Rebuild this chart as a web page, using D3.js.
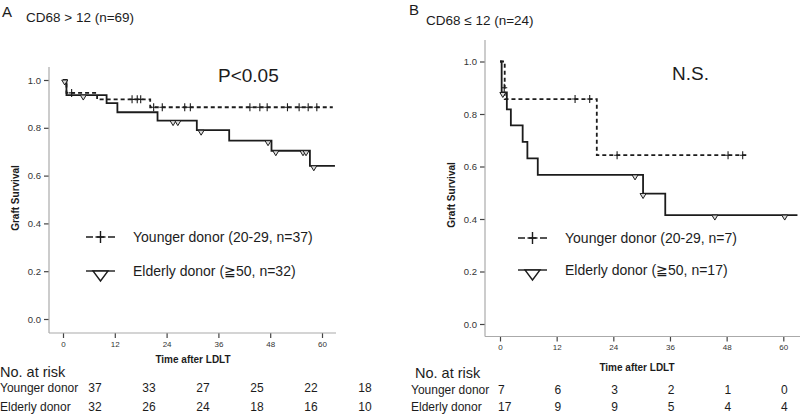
<!DOCTYPE html>
<html><head><meta charset="utf-8">
<script src="https://cdn.jsdelivr.net/npm/d3@7/dist/d3.min.js"></script>
<style>body{margin:0;background:#fff}svg{display:block;font-family:"Liberation Sans",Arial,sans-serif}</style>
</head><body><svg id="c" width="800" height="416"></svg>
<script>
// ---------- DATA ----------
const monthTicks = [0, 12, 24, 36, 48, 60];
const survTicks = [0, 0.2, 0.4, 0.6, 0.8, 1.0];

// Panel A : CD68 > 12
const aYoungT = [0, 0.8, 7.9, 20.2];
const aYoungS = [1, 0.946, 0.919, 0.886];
const aYoungEnd = 62.5;
const aYoungCensT = [2.0, 16.0, 17.2, 18.0, 21.0, 23.0, 28.2, 29.5, 43.3, 45.6, 47.3, 52.0, 54.7, 56.8, 58.8];
const aYoungCensS = [0.946, 0.919, 0.919, 0.919, 0.886, 0.886, 0.886, 0.886, 0.886, 0.886, 0.886, 0.886, 0.886, 0.886, 0.886];
const aOldT = [0, 0.8, 10.1, 12.6, 21.9, 31.0, 38.5, 48.3, 57.2];
const aOldS = [1, 0.937, 0.903, 0.865, 0.83, 0.79, 0.746, 0.704, 0.641];
const aOldEnd = 63;
const aOldCensT = [0.4, 4.7, 25.5, 26.6, 32.0, 47.5, 49.3, 55.6, 56.3, 58.1];
const aOldCensS = [1.0, 0.937, 0.83, 0.83, 0.79, 0.746, 0.704, 0.704, 0.704, 0.641];
const aRiskYoung = [37, 33, 27, 25, 22, 18];
const aRiskOld = [32, 26, 24, 18, 16, 10];

// Panel B : CD68 <= 12
const bYoungT = [0, 1.0, 20.5];
const bYoungS = [1, 0.857, 0.643];
const bYoungEnd = 52.5;
const bYoungCensT = [0.9, 15.9, 19.0, 24.8, 48.3, 51.4];
const bYoungCensS = [0.9, 0.857, 0.857, 0.643, 0.643, 0.643];
const bOldT = [0, 0.35, 1.45, 2.3, 4.8, 5.8, 8.0, 30.3, 35.0];
const bOldS = [1, 0.882, 0.818, 0.757, 0.694, 0.631, 0.568, 0.497, 0.415];
const bOldEnd = 63;
const bOldCensT = [0.6, 28.6, 30.3, 45.5, 60.3];
const bOldCensS = [0.882, 0.568, 0.497, 0.415, 0.415];
const bRiskYoung = [7, 6, 3, 2, 1, 0];
const bRiskOld = [17, 9, 9, 5, 4, 4];

const panels = [
  {letter: "A", title: "CD68 > 12 (n=69)", pval: "P<0.05",
   legYoung: "Younger donor (20-29, n=37)", legOld: "Elderly donor (\u226750, n=32)",
   young: {t: aYoungT, s: aYoungS, end: aYoungEnd, ct: aYoungCensT, cs: aYoungCensS},
   old: {t: aOldT, s: aOldS, end: aOldEnd, ct: aOldCensT, cs: aOldCensS},
   riskY: aRiskYoung, riskO: aRiskOld,
   L: {x0: 63, x60: 322, y0: 319, y1: 80, axL: 49, axR: 336, axT: 67, axB: 333,
       letterX: 2, letterY: 17, titleX: 26, titleY: 22, pX: 218, pY: 82,
       ylabX: 19, ylabY: 198, legX1: 86, legX2: 115, legTx: 133, legY1: 237, legY2: 271,
       tlabY: 347, xlabX: 193, xlabY: 363, riskTitleX: 0, riskTitleY: 377,
       rowLabX: 0, rowY1: 392, rowY2: 411, riskX0: 95, riskX60: 365, riskAnchor: "middle"}},
  {letter: "B", title: "CD68 \u2264 12 (n=24)", pval: "N.S.",
   legYoung: "Younger donor (20-29, n=7)", legOld: "Elderly donor (\u226750, n=17)",
   young: {t: bYoungT, s: bYoungS, end: bYoungEnd, ct: bYoungCensT, cs: bYoungCensS},
   old: {t: bOldT, s: bOldS, end: bOldEnd, ct: bOldCensT, cs: bOldCensS},
   riskY: bRiskYoung, riskO: bRiskOld,
   L: {x0: 500, x60: 783.3, y0: 324, y1: 61.5, axL: 485, axR: 800, axT: 40, axB: 336.5,
       letterX: 409, letterY: 15, titleX: 426, titleY: 25, pX: 672, pY: 80,
       ylabX: 455, ylabY: 195, legX1: 518, legX2: 547, legTx: 565, legY1: 238, legY2: 270,
       tlabY: 350, xlabX: 637, xlabY: 371, riskTitleX: 415, riskTitleY: 378,
       rowLabX: 411, rowY1: 394, rowY2: 411, riskX0: 498, riskX60: 781, riskAnchor: "start"}}
];

const INK = "#1c1c1c";
const svg = d3.select("#c");

function triPath(cx, cy, w, h) { // inverted triangle hanging below cy
  return `M${cx - w/2},${cy}L${cx + w/2},${cy}L${cx},${cy + h}Z`;
}

panels.forEach(p => {
  const L = p.L;
  const g = svg.append("g");
  const x = d3.scaleLinear().domain([0, 60]).range([L.x0, L.x60]);
  const y = d3.scaleLinear().domain([0, 1]).range([L.y0, L.y1]);

  // titles
  g.append("text").attr("x", L.letterX).attr("y", L.letterY).attr("font-size", 15).attr("fill", INK).text(p.letter);
  g.append("text").attr("x", L.titleX).attr("y", L.titleY).attr("font-size", 13.5).attr("fill", INK).text(p.title);
  g.append("text").attr("x", L.pX).attr("y", L.pY).attr("font-size", 19).attr("fill", INK).text(p.pval);

  // y axis
  const yAxis = d3.axisLeft(y).tickValues(survTicks).tickFormat(d3.format(".1f")).tickSize(5).tickSizeOuter(0);
  const ya = g.append("g").attr("transform", `translate(${L.axL},0)`).call(yAxis);
  ya.select(".domain").remove();
  ya.selectAll(".tick line").attr("stroke", "#444").attr("stroke-width", 1.2);
  ya.selectAll(".tick text").attr("font-size", 9.5).attr("fill", "#333").attr("font-family", "Liberation Sans, Arial, sans-serif");
  g.append("line").attr("x1", L.axL).attr("x2", L.axL).attr("y1", L.axT).attr("y2", L.axB).attr("stroke", "#aaa").attr("stroke-width", 1.2);

  // x axis
  const xAxis = d3.axisBottom(x).tickValues(monthTicks).tickSize(5).tickSizeOuter(0);
  const xa = g.append("g").attr("transform", `translate(0,${L.axB})`).call(xAxis);
  xa.select(".domain").remove();
  xa.selectAll(".tick line").attr("stroke", "#444").attr("stroke-width", 1.2);
  xa.selectAll(".tick text").attr("font-size", 8).attr("fill", "#333").attr("dy", 0)
    .attr("y", L.tlabY - L.axB).attr("font-family", "Liberation Sans, Arial, sans-serif");
  g.append("line").attr("x1", L.axL).attr("x2", L.axR).attr("y1", L.axB).attr("y2", L.axB).attr("stroke", "#aaa").attr("stroke-width", 1.2);

  // axis labels
  g.append("text").attr("transform", `translate(${L.ylabX},${L.ylabY}) rotate(-90)`).attr("text-anchor", "middle")
    .attr("font-size", 10).attr("font-weight", "bold").attr("fill", INK).text("Graft Survival");
  g.append("text").attr("x", L.xlabX).attr("y", L.xlabY).attr("text-anchor", "middle")
    .attr("font-size", 10).attr("font-weight", "bold").attr("fill", INK).text("Time after LDLT");

  // KM curves
  const step = d3.line().x(d => x(d[0])).y(d => y(d[1])).curve(d3.curveStepAfter);
  function pts(c) {
    const a = c.t.map((t, i) => [t, c.s[i]]);
    a.push([c.end, c.s[c.s.length - 1]]);
    return a;
  }
  g.append("path").datum(pts(p.young)).attr("d", step).attr("fill", "none").attr("stroke", INK)
    .attr("stroke-width", 1.8).attr("stroke-dasharray", "4,3");
  g.append("path").datum(pts(p.old)).attr("d", step).attr("fill", "none").attr("stroke", INK)
    .attr("stroke-width", 1.8);

  // censor marks
  p.young.ct.forEach((t, i) => {
    const cx = x(t), cy = y(p.young.cs[i]);
    g.append("path").attr("d", `M${cx},${cy - 4}V${cy + 4}M${cx - 3},${cy}H${cx + 3}`)
      .attr("stroke", INK).attr("stroke-width", 1.1);
  });
  p.old.ct.forEach((t, i) => {
    const cx = x(t), cy = y(p.old.cs[i]);
    g.append("path").attr("d", triPath(cx, cy, 6, 5)).attr("fill", "#ddd").attr("stroke", INK).attr("stroke-width", 1);
  });

  // legend
  const lm = (L.legX1 + L.legX2) / 2;
  g.append("line").attr("x1", L.legX1).attr("x2", L.legX2).attr("y1", L.legY1).attr("y2", L.legY1)
    .attr("stroke", INK).attr("stroke-width", 1.4).attr("stroke-dasharray", "7,4");
  g.append("path").attr("d", `M${lm},${L.legY1 - 6}V${L.legY1 + 6}M${lm - 5},${L.legY1}H${lm + 5}`)
    .attr("stroke", INK).attr("stroke-width", 1.4);
  g.append("text").attr("x", L.legTx).attr("y", L.legY1 + 5).attr("font-size", 14).attr("fill", INK).text(p.legYoung);
  g.append("line").attr("x1", L.legX1).attr("x2", L.legX2).attr("y1", L.legY2).attr("y2", L.legY2)
    .attr("stroke", INK).attr("stroke-width", 1.4);
  g.append("path").attr("d", triPath(lm, L.legY2, 15, 10)).attr("fill", "#fff").attr("stroke", INK).attr("stroke-width", 1.4);
  g.append("text").attr("x", L.legTx).attr("y", L.legY2 + 5).attr("font-size", 14).attr("fill", INK).text(p.legOld);

  // risk table
  const rx = d3.scaleLinear().domain([0, 60]).range([L.riskX0, L.riskX60]);
  g.append("text").attr("x", L.riskTitleX).attr("y", L.riskTitleY).attr("font-size", 14.5).attr("fill", INK).text("No. at risk");
  g.append("text").attr("x", L.rowLabX).attr("y", L.rowY1).attr("font-size", 12).attr("fill", INK).text("Younger donor");
  g.append("text").attr("x", L.rowLabX).attr("y", L.rowY2).attr("font-size", 12).attr("fill", INK).text("Elderly donor");
  g.selectAll(null).data(p.riskY).join("text").attr("x", (d, i) => rx(monthTicks[i])).attr("y", L.rowY1)
    .attr("text-anchor", L.riskAnchor).attr("font-size", 12).attr("fill", INK).text(d => d);
  g.selectAll(null).data(p.riskO).join("text").attr("x", (d, i) => rx(monthTicks[i])).attr("y", L.rowY2)
    .attr("text-anchor", L.riskAnchor).attr("font-size", 12).attr("fill", INK).text(d => d);
});
</script></body></html>
